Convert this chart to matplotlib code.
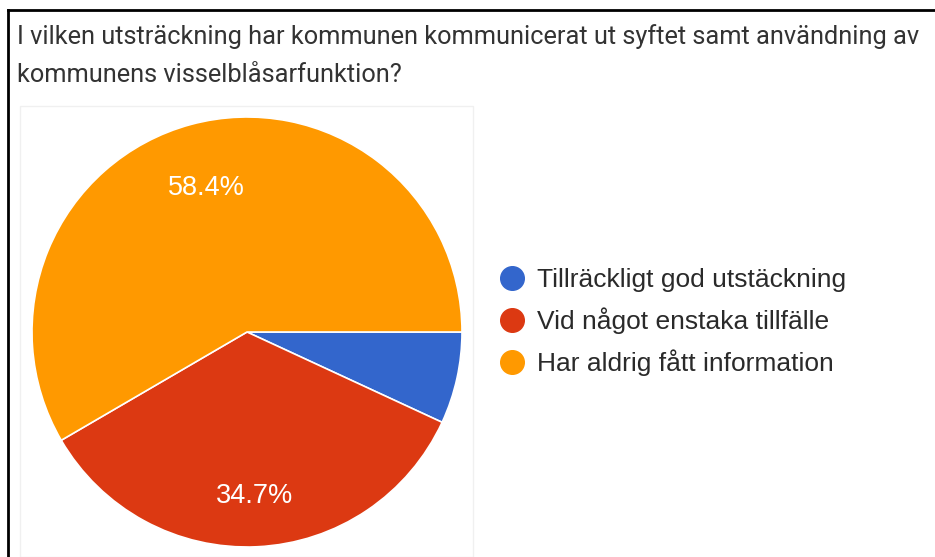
import matplotlib.pyplot as plt
from matplotlib.patches import Rectangle

title_lines = ["I vilken utsträckning har kommunen kommunicerat ut syftet samt användning av",
               "kommunens visselblåsarfunktion?"]
labels = ["Tillräckligt god utstäckning", "Vid något enstaka tillfälle", "Har aldrig fått information"]
shares = [6.9, 34.7, 58.4]
colors = ["#3366cc", "#dc3912", "#ff9900"]

W, H = 935, 557
fig = plt.figure(figsize=(W / 100, H / 100), dpi=100)
fig.patch.set_facecolor('white')

# cropped screenshot frame: only left and top edges visible
fig.add_artist(plt.Line2D([8 / W, 8 / W], [0, 1 - 10 / H], color='black', lw=2))
fig.add_artist(plt.Line2D([8 / W, 1], [1 - 10 / H, 1 - 10 / H], color='black', lw=2))
# faint chart box
fig.add_artist(Rectangle((20 / W, 0), 453 / W, 1 - 106 / H, fill=False, ec='#f0f0f0', lw=1))

fig.text(17 / W, 1 - 37 / H, title_lines[0], fontsize=18.3, family='Roboto', color='#333333', va='center')
fig.text(17 / W, 1 - 75 / H, title_lines[1], fontsize=18.3, family='Roboto', color='#333333', va='center')

cx, cy, r = 247, H - 332, 215
ax = fig.add_axes([(cx - r) / W, (cy - r) / H, 2 * r / W, 2 * r / H])
wedges, texts, autotexts = ax.pie(shares, colors=colors, startangle=0, counterclock=False,
                                  radius=1, pctdistance=0.73,
                                  autopct=lambda p: f'{p:.1f}%' if p > 10 else '',
                                  wedgeprops=dict(edgecolor='white', linewidth=1.2),
                                  textprops=dict(color='white', fontsize=19.5, family='Liberation Sans'))
for t in autotexts:
    t.set_y(t.get_position()[1] - 0.035)
ax.set_xlim(-1, 1)
ax.set_ylim(-1, 1)
ax.set_aspect('equal')
ax.axis('off')

handles = [plt.Line2D([], [], marker='o', ls='', markersize=17, markerfacecolor=c, markeredgecolor=c)
           for c in colors]
leg = fig.legend(handles, labels, loc='center left', bbox_to_anchor=(496 / W, 1 - 322 / H),
                 frameon=False, prop=dict(family='Liberation Sans', size=19),
                 borderpad=0, borderaxespad=0,
                 handletextpad=0.35, labelspacing=0.58, handlelength=1.2)
for t in leg.get_texts():
    t.set_color('#2a2a2a')

fig.savefig('out.png', dpi=100)
